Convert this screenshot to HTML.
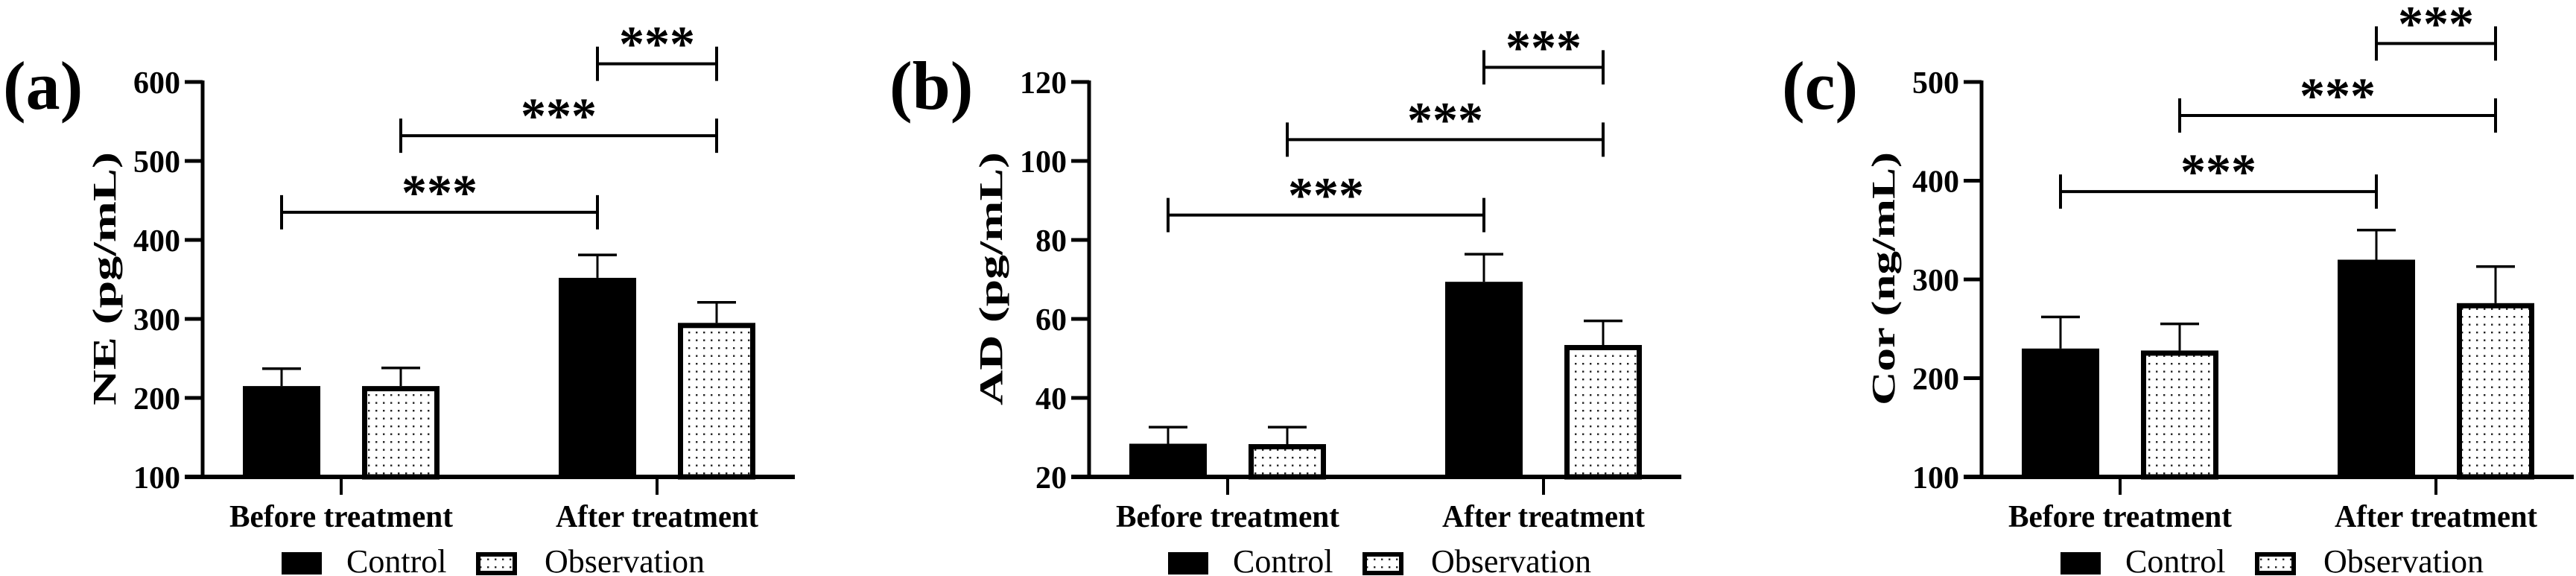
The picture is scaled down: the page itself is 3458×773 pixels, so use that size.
<!DOCTYPE html>
<html><head><meta charset="utf-8">
<style>
html,body{margin:0;padding:0;background:#fff;}
svg{display:block;}
svg text{font-family:"Liberation Serif","DejaVu Serif",serif;fill:#000;}
</style></head>
<body>
<svg id="chart" width="3458" height="773" viewBox="0 0 3458 773" xmlns="http://www.w3.org/2000/svg">
<defs>
<pattern id="dots" patternUnits="userSpaceOnUse" width="10" height="10.5">
<rect x="4" y="4" width="2.4" height="2.4" fill="#222"/>
</pattern>
</defs>
</svg>
<script>
// ---- data ----
const categories = ["Before treatment", "After treatment"];
const seriesNames = ["Control", "Observation"];
const panelLabels = ["(a)", "(b)", "(c)"];
const yTitles = ["NE (pg/mL)", "AD (pg/mL)", "Cor (ng/mL)"];
const yMins = [100, 20, 100];
const yMaxs = [600, 120, 500];
const yTicksA = [100, 200, 300, 400, 500, 600];
const yTicksB = [20, 40, 60, 80, 100, 120];
const yTicksC = [100, 200, 300, 400, 500];
const controlA = [215, 352];
const controlErrA = [22, 29];
const observA = [215, 295];
const observErrA = [23, 26];
const controlB = [28.4, 69.4];
const controlErrB = [4.2, 7.0];
const observB = [28.3, 53.4];
const observErrB = [4.3, 6.1];
const controlC = [230, 320];
const controlErrC = [32, 30];
const observC = [228, 276];
const observErrC = [27, 37];
const bracketsA = [435, 532, 623];
const bracketsB = [86.3, 105.4, 123.7];
const bracketsC = [389, 466, 539];
const sigText = "***";

const panels = [
  {ox:272, ticks:yTicksA, ctrl:controlA, ctrlE:controlErrA, obs:observA, obsE:observErrA, br:bracketsA},
  {ox:1462, ticks:yTicksB, ctrl:controlB, ctrlE:controlErrB, obs:observB, obsE:observErrB, br:bracketsB},
  {ox:2660, ticks:yTicksC, ctrl:controlC, ctrlE:controlErrC, obs:observC, obsE:observErrC, br:bracketsC}
];

const svg = document.getElementById('chart');
const NS = "http://www.w3.org/2000/svg";
const SERIF = '"Liberation Serif", serif';
function mk(tag, attrs, parent) {
  const e = document.createElementNS(NS, tag);
  for (const k in attrs) e.setAttribute(k, attrs[k]);
  if (tag === 'text' && !attrs['font-family']) e.setAttribute('font-family', SERIF);
  (parent || svg).appendChild(e);
  return e;
}
const Y0 = 640, Y1 = 110, AXLEN = 795;

panels.forEach((p, i) => {
  const g = mk('g', {});
  
  
  const ymin = yMins[i], ymax = yMaxs[i];
  const y = v => Y0 - (v - ymin) / (ymax - ymin) * (Y0 - Y1);
  const tickX = [p.ox + 186, p.ox + 610];

  const pl = mk('text', {x:p.ox - 268, y:146, 'font-size':92, 'font-weight':'bold'}, g);
  pl.textContent = panelLabels[i];
  
  

  const yt = mk('text', {x:0, y:0, 'font-size':44, 'font-weight':'bold', 'text-anchor':'middle',
    transform:`translate(${p.ox - 117},374) rotate(-90)`, textLength: 340, lengthAdjust:'spacingAndGlyphs'}, g);
  yt.textContent = yTitles[i];
  
  

  const bw = 104;
  categories.forEach((c, j) => {
    const cx = tickX[j];
    const cv = p.ctrl[j];
    const eb1 = mk('line', {x1:cx - 80, x2:cx - 80, y1:y(cv), y2:y(cv + p.ctrlE[j]), stroke:'#000', 'stroke-width':3}, g);
    
    
    const cap1 = mk('line', {x1:cx - 106, x2:cx - 54, y1:y(cv + p.ctrlE[j]), y2:y(cv + p.ctrlE[j]), stroke:'#000', 'stroke-width':3.5}, g);
    
    
    const b1 = mk('rect', {x:cx - 132, y:y(cv), width:bw, height:Y0 - y(cv), fill:'#000'}, g);
    
    
    const ov = p.obs[j];
    const eb2 = mk('line', {x1:cx + 80, x2:cx + 80, y1:y(ov), y2:y(ov + p.obsE[j]), stroke:'#000', 'stroke-width':3}, g);
    
    
    const cap2 = mk('line', {x1:cx + 54, x2:cx + 106, y1:y(ov + p.obsE[j]), y2:y(ov + p.obsE[j]), stroke:'#000', 'stroke-width':3.5}, g);
    
    
    const b2 = mk('rect', {x:cx + 31.5, y:y(ov) + 3.5, width:bw - 7, height:Y0 - y(ov) - 3.5, fill:'url(#dots)', stroke:'#000', 'stroke-width':7}, g);
    
    

    const xt = mk('line', {x1:cx, x2:cx, y1:Y0, y2:Y0 + 24, stroke:'#000', 'stroke-width':4}, g);
    
    
    const xl = mk('text', {x:cx, y:707, 'font-size':42, 'font-weight':'bold', 'text-anchor':'middle',
      textLength: j === 0 ? 300 : 272, lengthAdjust:'spacingAndGlyphs'}, g);
    xl.textContent = c;
    
    
  });

  const ya = mk('line', {x1:p.ox, x2:p.ox, y1:Y1 - 2, y2:Y0 + 3, stroke:'#000', 'stroke-width':5}, g);
  
  
  const xa = mk('line', {x1:p.ox - 24, x2:p.ox + AXLEN, y1:Y0, y2:Y0, stroke:'#000', 'stroke-width':6}, g);
  
  
  p.ticks.forEach(t => {
    const tl = mk('line', {x1:p.ox - 24, x2:p.ox, y1:y(t), y2:y(t), stroke:'#000', 'stroke-width':5}, g);
    
    
    const tx = mk('text', {x:p.ox - 30, y:y(t) + 15, 'font-size':42, 'font-weight':'bold', 'text-anchor':'end'}, g);
    tx.textContent = t;
    
    
  });

  const pairs = [[tickX[0] - 80, tickX[1] - 80], [tickX[0] + 80, tickX[1] + 80], [tickX[1] - 80, tickX[1] + 80]];
  p.br.forEach((bv, k) => {
    const by = y(bv);
    const [xa1, xb1] = pairs[k];
    const bl = mk('path', {d:`M${xa1},${by - 23}V${by + 23}M${xa1},${by}H${xb1}M${xb1},${by - 23}V${by + 23}`,
      stroke:'#000', 'stroke-width':4, fill:'none'}, g);
    
    
    const st = mk('text', {x:(xa1 + xb1) / 2, y:by - 4, 'font-size':68, 'font-weight':'bold', 'text-anchor':'middle',
      'font-family':'"Liberation Sans", sans-serif'}, g);
    st.textContent = sigText;
    
    
  });

  const lx = p.ox + 106;
  const lb1 = mk('rect', {x:lx, y:741, width:54, height:30, fill:'#000'}, g);
  
  
  const lt1 = mk('text', {x:lx + 87, y:768, 'font-size':44}, g);
  lt1.textContent = seriesNames[0];
  
  
  const lb2 = mk('rect', {x:lx + 264, y:744, width:49, height:25, fill:'url(#dots)', stroke:'#000', 'stroke-width':6}, g);
  
  
  const lt2 = mk('text', {x:lx + 353, y:768, 'font-size':44}, g);
  lt2.textContent = seriesNames[1];
  
  
});
</script>
</body></html>
